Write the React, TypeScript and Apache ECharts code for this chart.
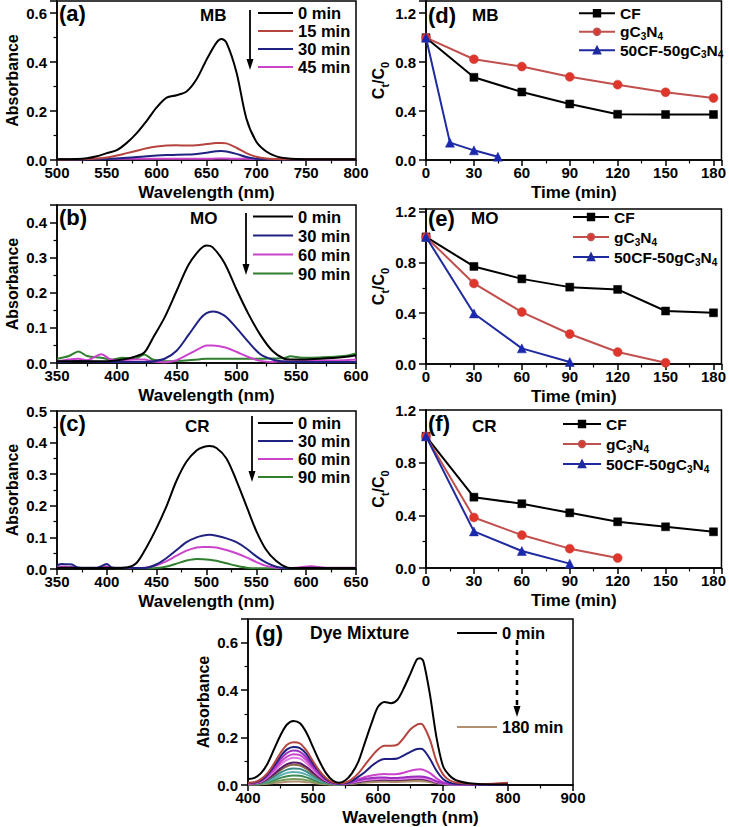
import React, { useEffect, useRef } from "react";
import * as echarts from "echarts";

const FONT = '"Liberation Sans", Arial, Helvetica, sans-serif';

// ---- Panel (a) MB spectra ----
const A_WL = [500,520,530,540,550,560,570,580,590,600,610,620,630,640,650,660,665,670,680,690,700,710,720,730,740,760,800];
const A_0 = [0.003,0.004,0.007,0.015,0.028,0.04,0.07,0.11,0.16,0.215,0.255,0.265,0.28,0.33,0.41,0.48,0.495,0.48,0.36,0.17,0.075,0.035,0.015,0.007,0.004,0.003,0.003];
const A_15 = [0.002,0.003,0.004,0.006,0.01,0.018,0.028,0.038,0.048,0.055,0.059,0.06,0.059,0.06,0.065,0.07,0.07,0.068,0.05,0.028,0.013,0.006,0.004,0.003,0.003,0.003,0.003];
const A_30 = [0.002,0.002,0.002,0.003,0.004,0.006,0.009,0.012,0.015,0.018,0.02,0.021,0.022,0.025,0.03,0.036,0.037,0.035,0.025,0.012,0.005,0.003,0.002,0.002,0.002,0.002,0.002];
const A_45 = [0.004,0.004,0.004,0.004,0.005,0.005,0.005,0.005,0.005,0.005,0.005,0.005,0.005,0.005,0.005,0.006,0.006,0.006,0.005,0.005,0.004,0.004,0.004,0.004,0.004,0.004,0.004];

// ---- Panel (b) MO spectra ----
const B_WL = [350,360,368,375,387,395,405,415,423,430,440,450,460,470,475,480,490,500,510,520,530,540,545,555,570,590,600];
const B_0 = [0.005,0.005,0.005,0.005,0.005,0.006,0.01,0.018,0.03,0.07,0.13,0.205,0.28,0.325,0.335,0.33,0.285,0.21,0.14,0.08,0.035,0.012,0.01,0.01,0.012,0.017,0.022];
const B_30 = [0.003,0.004,0.006,0.004,0.003,0.003,0.003,0.003,0.003,0.005,0.012,0.035,0.08,0.127,0.142,0.147,0.135,0.1,0.06,0.025,0.01,0.004,0.003,0.003,0.003,0.003,0.003];
const B_60 = [0.005,0.01,0.012,0.008,0.025,0.01,0.008,0.01,0.01,0.004,0.002,0.008,0.025,0.043,0.05,0.05,0.045,0.032,0.017,0.006,0.003,0.005,0.005,0.006,0.007,0.008,0.01];
const B_90 = [0.012,0.02,0.033,0.02,0.015,0.01,0.015,0.012,0.024,0.01,0.005,0.006,0.008,0.011,0.012,0.012,0.012,0.012,0.012,0.012,0.013,0.014,0.019,0.015,0.016,0.02,0.027];

// ---- Panel (c) CR spectra ----
const C_WL = [350,355,360,365,370,380,390,400,405,420,430,440,450,460,470,480,490,497,503,510,520,530,540,550,560,570,580,590,605,620,650];
const C_0 = [0.003,0.004,0.004,0.004,0.003,0.003,0.003,0.004,0.003,0.005,0.02,0.07,0.13,0.2,0.28,0.34,0.375,0.386,0.389,0.383,0.35,0.28,0.2,0.12,0.06,0.025,0.006,0.003,0.003,0.003,0.003];
const C_30 = [0.012,0.016,0.015,0.014,0.006,0.004,0.004,0.016,0.005,0.004,0.003,0.004,0.015,0.035,0.06,0.085,0.1,0.106,0.108,0.105,0.097,0.085,0.065,0.04,0.02,0.007,0.003,0.003,0.004,0.003,0.003];
const C_60 = [0.005,0.008,0.007,0.006,0.004,0.003,0.003,0.008,0.004,0.003,0.003,0.005,0.012,0.025,0.042,0.058,0.068,0.07,0.07,0.068,0.06,0.05,0.037,0.022,0.01,0.004,0.003,0.004,0.009,0.004,0.004];
const C_90 = [0.004,0.005,0.005,0.004,0.003,0.003,0.003,0.005,0.003,0.002,0.002,0.002,0.003,0.008,0.017,0.027,0.032,0.031,0.029,0.026,0.018,0.01,0.004,0.002,0.002,0.002,0.002,0.002,0.002,0.002,0.002];

// ---- Kinetics (d) MB, (e) MO, (f) CR ----
const T7 = [0,30,60,90,120,150,180];
const T_D50 = [0,15,30,45];
const D_CF = [1.0,0.676,0.556,0.458,0.374,0.372,0.372];
const D_G = [1.0,0.824,0.764,0.68,0.616,0.554,0.507];
const D_50 = [1.0,0.142,0.079,0.027];
const E_CF = [1.0,0.768,0.67,0.605,0.587,0.417,0.403];
const E_G = [1.0,0.634,0.409,0.236,0.094,0.01];
const E_50 = [1.0,0.398,0.123,0.016];
const F_CF = [1.0,0.538,0.488,0.419,0.351,0.313,0.275];
const F_G = [1.0,0.384,0.25,0.147,0.076];
const F_50 = [1.0,0.278,0.129,0.033];

// ---- Panel (g) Dye mixture ----
const G_WL = [400,410,420,430,440,450,460,470,480,490,500,510,520,530,540,550,560,570,580,590,600,610,620,630,640,650,660,665,670,680,690,700,710,720,740,760,800];
const G_CURVES = [
  [0.025,0.03,0.05,0.09,0.15,0.21,0.255,0.27,0.26,0.22,0.16,0.1,0.05,0.02,0.01,0.02,0.05,0.1,0.18,0.26,0.33,0.35,0.345,0.36,0.41,0.47,0.53,0.535,0.52,0.38,0.2,0.08,0.04,0.02,0.007,0.003,0.002],
  [0.01,0.012,0.025,0.05,0.09,0.135,0.17,0.18,0.175,0.145,0.1,0.06,0.03,0.012,0.008,0.01,0.025,0.05,0.085,0.12,0.15,0.165,0.165,0.17,0.2,0.235,0.255,0.258,0.25,0.19,0.1,0.045,0.02,0.01,0.005,0.004,0.01],
  [0.008,0.01,0.02,0.045,0.08,0.12,0.15,0.16,0.155,0.13,0.09,0.055,0.025,0.01,0.006,0.008,0.018,0.035,0.055,0.08,0.1,0.11,0.11,0.112,0.125,0.14,0.152,0.153,0.148,0.11,0.06,0.025,0.01,0.005,0.003,0.002,0.002],
  [0.008,0.01,0.018,0.04,0.072,0.108,0.135,0.145,0.14,0.116,0.08,0.048,0.022,0.009,0.005,0.006,0.012,0.02,0.026,0.03,0.032,0.032,0.03,0.03,0.032,0.035,0.036,0.036,0.035,0.028,0.016,0.008,0.004,0.003,0.002,0.002,0.002],
  [0.006,0.008,0.016,0.036,0.064,0.096,0.12,0.13,0.126,0.104,0.072,0.043,0.02,0.008,0.005,0.007,0.014,0.025,0.034,0.04,0.044,0.046,0.045,0.046,0.052,0.06,0.065,0.066,0.064,0.05,0.028,0.012,0.006,0.003,0.002,0.002,0.002],
  [0.006,0.007,0.014,0.032,0.057,0.085,0.106,0.115,0.111,0.092,0.064,0.038,0.018,0.007,0.004,0.005,0.01,0.016,0.02,0.023,0.025,0.026,0.025,0.025,0.026,0.028,0.029,0.029,0.028,0.022,0.012,0.006,0.003,0.002,0.002,0.002,0.002],
  [0.005,0.006,0.012,0.027,0.047,0.07,0.088,0.095,0.092,0.076,0.053,0.031,0.015,0.006,0.004,0.005,0.009,0.014,0.018,0.021,0.022,0.023,0.022,0.022,0.023,0.025,0.026,0.026,0.025,0.019,0.01,0.005,0.003,0.002,0.002,0.002,0.002],
  [0.005,0.006,0.011,0.024,0.042,0.063,0.079,0.085,0.082,0.068,0.047,0.028,0.013,0.006,0.004,0.005,0.008,0.012,0.016,0.018,0.02,0.02,0.02,0.02,0.021,0.022,0.023,0.023,0.022,0.017,0.009,0.005,0.003,0.002,0.002,0.002,0.002],
  [0.004,0.005,0.009,0.02,0.035,0.052,0.065,0.07,0.068,0.056,0.039,0.023,0.011,0.005,0.003,0.005,0.009,0.014,0.018,0.021,0.023,0.024,0.023,0.023,0.024,0.026,0.027,0.027,0.026,0.02,0.011,0.005,0.003,0.002,0.002,0.002,0.002],
  [0.004,0.004,0.008,0.016,0.027,0.041,0.051,0.055,0.053,0.044,0.031,0.018,0.009,0.004,0.003,0.004,0.008,0.013,0.017,0.02,0.022,0.023,0.022,0.022,0.023,0.025,0.026,0.026,0.025,0.019,0.01,0.005,0.003,0.002,0.002,0.002,0.002],
  [0.003,0.004,0.006,0.012,0.02,0.03,0.037,0.04,0.039,0.032,0.022,0.013,0.007,0.004,0.003,0.005,0.009,0.015,0.02,0.024,0.026,0.027,0.026,0.026,0.027,0.029,0.03,0.03,0.029,0.022,0.012,0.006,0.003,0.002,0.002,0.002,0.002],
  [0.003,0.003,0.004,0.008,0.013,0.019,0.023,0.025,0.024,0.02,0.014,0.008,0.005,0.003,0.003,0.004,0.008,0.012,0.016,0.019,0.021,0.022,0.021,0.021,0.022,0.023,0.024,0.024,0.023,0.018,0.01,0.005,0.003,0.002,0.002,0.002,0.002],
  [0.002,0.002,0.003,0.005,0.008,0.011,0.014,0.015,0.015,0.012,0.009,0.005,0.003,0.002,0.002,0.003,0.005,0.008,0.01,0.012,0.013,0.014,0.013,0.013,0.014,0.015,0.016,0.016,0.015,0.012,0.007,0.004,0.002,0.002,0.002,0.002,0.002],
];
const G_NAMES = ["0 min","mix 15","mix 30","mix 45","mix 60","mix 75","mix 90","mix 105","mix 120","mix 135","mix 150","mix 165","180 min"];
const G_COLORS = ["#000000","#b5443f","#1f1f80","#9b30c0","#cc44cc","#e27ae2","#5a1a6a","#8a6a4a","#3a8a8a","#5ab0b0","#3f8a55","#7a9a5a","#b09070"];

const BLACK = "#000000";
const RED = "#b5443f";
const NAVY = "#1f2280";
const MAGENTA = "#cc44cc";
const GREEN = "#2f7f2f";

const pairs = (xs: number[], ys: number[]) => ys.map((y, i) => [xs[i], y]);

const GRIDS = [
  { left: 57, top: 1, width: 299, height: 159 },   // a
  { left: 57, top: 205, width: 299, height: 158 }, // b
  { left: 57, top: 411, width: 299, height: 158 }, // c
  { left: 426, top: 1, width: 299, height: 159 },  // d
  { left: 426, top: 209, width: 299, height: 155 },// e
  { left: 426, top: 410, width: 299, height: 158 },// f
  { left: 248, top: 619, width: 325, height: 168 },// g
];

function axis(opts: any) {
  const { min, max, interval, gridIndex, name, nameGap, hideMax, digits, isY, rich } = opts;
  return {
    type: "value",
    gridIndex,
    min,
    max,
    interval,
    name,
    nameLocation: "middle",
    nameGap,
    nameTextStyle: {
      fontFamily: FONT,
      fontWeight: "bold",
      fontSize: isY ? 16 : 17,
      color: "#000",
      rich,
    },
    axisLine: { show: true, onZero: false, lineStyle: { color: "#000", width: 1.5 } },
    axisTick: { show: true, inside: false, length: isY ? 7 : 6, lineStyle: { color: "#000", width: 1.5 } },
    minorTick: { show: true, splitNumber: 2, length: 3.5, lineStyle: { color: "#000", width: 1.2 } },
    splitLine: { show: false },
    axisLabel: {
      color: "#000",
      fontFamily: FONT,
      fontWeight: "bold",
      fontSize: 15,
      margin: isY ? 10 : 5,
      showMaxLabel: hideMax ? false : true,
      formatter: (v: number) => (digits === undefined ? String(v) : v.toFixed(digits)),
    },
  };
}

function spec(name: string, xs: number[], ys: number[], color: string, idx: number, width = 2) {
  return {
    type: "line",
    name,
    xAxisIndex: idx,
    yAxisIndex: idx,
    data: pairs(xs, ys),
    symbol: "none",
    smooth: 0.3,
    lineStyle: { color, width },
    itemStyle: { color },
  };
}

function kin(name: string, xs: number[], ys: number[], idx: number) {
  const style: any = {
    "CF": { line: "#000000", fill: "#000000", symbol: "rect", size: 8 },
    "gC3N4": { line: "#c0504d", fill: "#e0352b", symbol: "circle", size: 9 },
    "50CF-50gC3N4": { line: "#1f2a9e", fill: "#1a28b0", symbol: "triangle", size: 9 },
  }[name];
  return {
    type: "line",
    name,
    xAxisIndex: idx,
    yAxisIndex: idx,
    data: pairs(xs, ys),
    symbol: style.symbol,
    symbolSize: style.size,
    lineStyle: { color: style.line, width: 2 },
    itemStyle: { color: style.fill, borderColor: style.line, borderWidth: 0.5 },
  };
}

const subFmt = (name: string) => name.replace("gC3N4", "gC{s|3}N{s|4}");

function legend(data: string[], left: number, top: number, itemWidth: number, lineHeight: number, spectra: boolean) {
  return {
    show: true,
    orient: "vertical",
    left,
    top,
    itemWidth,
    itemHeight: spectra ? 2 : 8,
    icon: spectra ? "rect" : undefined,
    itemGap: 0,
    padding: 0,
    data,
    selectedMode: false,
    formatter: subFmt,
    textStyle: {
      fontFamily: FONT,
      fontWeight: "bold",
      fontSize: spectra ? 16.5 : 15.5,
      color: "#000",
      lineHeight,
      rich: {
        s: { fontFamily: FONT, fontWeight: "bold", fontSize: 10, color: "#000", verticalAlign: "bottom", lineHeight },
      },
    },
  };
}

function txt(text: string, x: number, y: number, size: number) {
  return {
    type: "text",
    x,
    y,
    style: {
      text,
      fill: "#000",
      fontFamily: FONT,
      fontWeight: "bold",
      fontSize: size,
      textVerticalAlign: "middle",
      verticalAlign: "middle",
    },
  };
}

function arrow(x: number, y1: number, y2: number, dashed = false) {
  return [
    {
      type: "line",
      shape: { x1: x, y1, x2: x, y2: y2 - 8 },
      style: { stroke: "#000", lineWidth: dashed ? 2.5 : 1.8, lineDash: dashed ? [5, 5] : null },
    },
    {
      type: "polygon",
      shape: { points: [[x - 3.5, y2 - 11], [x + 3.5, y2 - 11], [x, y2]] },
      style: { fill: "#000" },
    },
  ];
}

const CtC0 = "{n|C}{s|t}{n|/C}{s|0}";
const ctRich = {
  n: { fontFamily: FONT, fontWeight: "bold", fontSize: 16, color: "#000", verticalAlign: "middle", lineHeight: 18 },
  s: { fontFamily: FONT, fontWeight: "bold", fontSize: 11, color: "#000", verticalAlign: "bottom", lineHeight: 24 },
};

export default function App() {
  const ref = useRef<HTMLDivElement>(null);
  useEffect(() => {
    if (!ref.current) return;
    const chart = echarts.init(ref.current, undefined, { renderer: "svg" });
    const option: any = {
      animation: false,
      backgroundColor: "#ffffff",
      grid: GRIDS.map((g) => ({ ...g, show: true, borderColor: "#000", borderWidth: 1.5, backgroundColor: "transparent", containLabel: false })),
      xAxis: [
        axis({ gridIndex: 0, min: 500, max: 800, interval: 50, name: "Wavelength (nm)", nameGap: 24 }),
        axis({ gridIndex: 1, min: 350, max: 600, interval: 50, name: "Wavelength (nm)", nameGap: 24 }),
        axis({ gridIndex: 2, min: 350, max: 650, interval: 50, name: "Wavelength (nm)", nameGap: 24 }),
        axis({ gridIndex: 3, min: 0, max: 185, interval: 30, name: "Time (min)", nameGap: 24, hideMax: true }),
        axis({ gridIndex: 4, min: 0, max: 185, interval: 30, name: "Time (min)", nameGap: 24, hideMax: true }),
        axis({ gridIndex: 5, min: 0, max: 185, interval: 30, name: "Time (min)", nameGap: 24, hideMax: true }),
        axis({ gridIndex: 6, min: 400, max: 900, interval: 100, name: "Wavelength (nm)", nameGap: 24 }),
      ],
      yAxis: [
        axis({ gridIndex: 0, min: 0, max: 0.65, interval: 0.2, name: "Absorbance", nameGap: 37, hideMax: true, digits: 1, isY: true }),
        axis({ gridIndex: 1, min: 0, max: 0.45, interval: 0.1, name: "Absorbance", nameGap: 37, hideMax: true, digits: 1, isY: true }),
        axis({ gridIndex: 2, min: 0, max: 0.5, interval: 0.1, name: "Absorbance", nameGap: 37, digits: 1, isY: true }),
        axis({ gridIndex: 3, min: 0, max: 1.3, interval: 0.4, name: CtC0, nameGap: 36, hideMax: true, digits: 1, isY: true, rich: ctRich }),
        axis({ gridIndex: 4, min: 0, max: 1.22, interval: 0.4, name: CtC0, nameGap: 36, hideMax: true, digits: 1, isY: true, rich: ctRich }),
        axis({ gridIndex: 5, min: 0, max: 1.2, interval: 0.4, name: CtC0, nameGap: 36, digits: 1, isY: true, rich: ctRich }),
        axis({ gridIndex: 6, min: 0, max: 0.7, interval: 0.2, name: "Absorbance", nameGap: 37, hideMax: true, digits: 1, isY: true }),
      ],
      legend: [
        legend(["0 min", "15 min", "30 min", "45 min"], 258, 4, 35, 18, true),
        legend(["0 min", "30 min", "60 min", "90 min"], 253, 207, 40, 19, true),
        legend(["0 min", "30 min", "60 min", "90 min"], 258, 414, 35, 18, true),
        legend(["CF", "gC3N4", "50CF-50gC3N4"], 578, 4, 36, 18.5, false),
        legend(["CF", "gC3N4", "50CF-50gC3N4"], 572, 207, 36, 20, false),
        legend(["CF", "gC3N4", "50CF-50gC3N4"], 562, 414, 38, 20, false),
        legend(["0 min"], 457, 624, 40, 18, true),
        legend(["180 min"], 457, 718, 40, 18, true),
      ],
      series: [
        spec("45 min", A_WL, A_45, MAGENTA, 0),
        spec("30 min", A_WL, A_30, NAVY, 0),
        spec("15 min", A_WL, A_15, RED, 0),
        spec("0 min", A_WL, A_0, BLACK, 0),
        spec("90 min", B_WL, B_90, GREEN, 1),
        spec("60 min", B_WL, B_60, MAGENTA, 1),
        spec("30 min", B_WL, B_30, NAVY, 1),
        spec("0 min", B_WL, B_0, BLACK, 1),
        spec("90 min", C_WL, C_90, GREEN, 2),
        spec("60 min", C_WL, C_60, MAGENTA, 2),
        spec("30 min", C_WL, C_30, NAVY, 2),
        spec("0 min", C_WL, C_0, BLACK, 2),
        kin("CF", T7, D_CF, 3),
        kin("gC3N4", T7, D_G, 3),
        kin("50CF-50gC3N4", T_D50, D_50, 3),
        kin("CF", T7, E_CF, 4),
        kin("gC3N4", T7.slice(0, E_G.length), E_G, 4),
        kin("50CF-50gC3N4", T7.slice(0, E_50.length), E_50, 4),
        kin("CF", T7, F_CF, 5),
        kin("gC3N4", T7.slice(0, F_G.length), F_G, 5),
        kin("50CF-50gC3N4", T7.slice(0, F_50.length), F_50, 5),
        ...G_CURVES.map((c, i) => spec(G_NAMES[i], G_WL, c, G_COLORS[i], 6, 2)).reverse(),
      ],
      graphic: [
        txt("(a)", 59, 13, 22),
        txt("MB", 200, 15, 17),
        txt("(b)", 59, 217, 22),
        txt("MO", 190, 218, 17),
        txt("(c)", 59, 423, 22),
        txt("CR", 185, 426, 17),
        txt("(d)", 428, 15, 22),
        txt("MB", 472, 15, 17),
        txt("(e)", 428, 218, 22),
        txt("MO", 471, 218, 17),
        txt("(f)", 428, 423, 22),
        txt("CR", 472, 426, 17),
        txt("(g)", 255, 633, 22),
        txt("Dye Mixture", 310, 633, 17.5),
        ...arrow(250, 10, 70),
        ...arrow(246, 213, 275),
        ...arrow(252, 416, 482),
        ...arrow(517, 640, 717, true),
      ],
    };
    chart.setOption(option);
    return () => chart.dispose();
  }, []);
  return (
    <div
      ref={ref}
      style={{ position: "fixed", left: 0, top: 0, width: 729, height: 827, background: "#fff" }}
    />
  );
}
